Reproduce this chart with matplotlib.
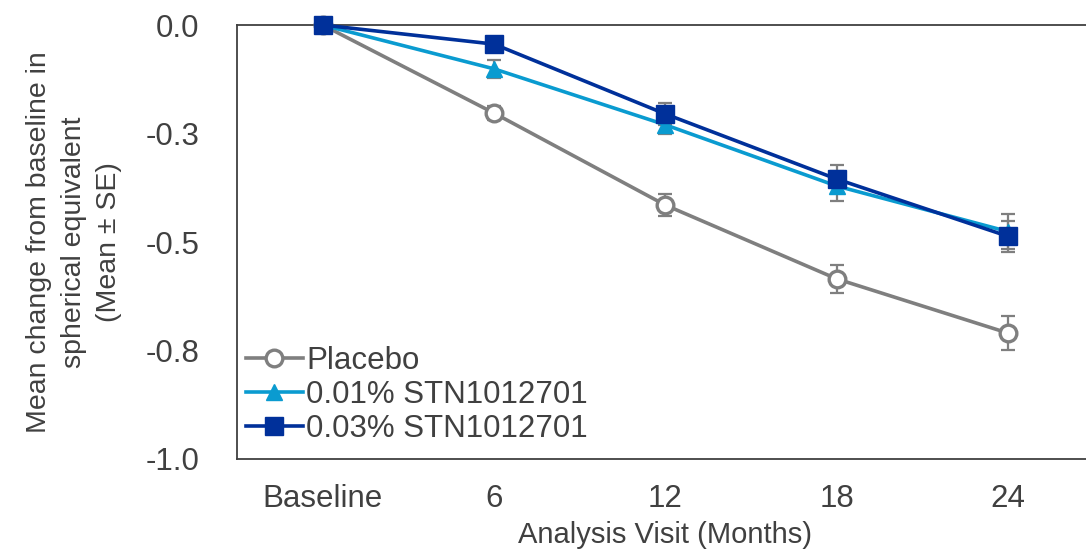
import matplotlib.pyplot as plt
import numpy as np

plt.rcParams['font.family'] = ['Liberation Sans', 'DejaVu Sans']

# data
visits = ['Baseline', '6', '12', '18', '24']
placebo = [0.0, -0.203, -0.415, -0.585, -0.710]
placebo_se = [0.0, 0.016, 0.025, 0.032, 0.039]
low_dose = [0.0, -0.101, -0.230, -0.371, -0.476]
low_dose_se = [0.0, 0.020, 0.022, 0.034, 0.040]
high_dose = [0.0, -0.044, -0.205, -0.355, -0.487]
high_dose_se = [0.0, 0.010, 0.025, 0.032, 0.036]
yticks = [0.0, -0.25, -0.5, -0.75, -1.0]
ytick_labels = ['0.0', '-0.3', '-0.5', '-0.8', '-1.0']

grey = '#7f7f7f'
light_blue = '#0a9bd0'
dark_blue = '#00309a'
txt = '#404040'

fig = plt.figure(figsize=(10.86, 5.5), dpi=100)
ax = fig.add_axes([0.2182, 0.1655, 0.789, 0.789])
x = np.arange(len(visits))

# error bars first, lines + markers on top
for vals, se in [(placebo, placebo_se), (low_dose, low_dose_se), (high_dose, high_dose_se)]:
    ax.errorbar(x, vals, yerr=se, fmt='none', ecolor=grey, elinewidth=1.6,
                capsize=5, capthick=1.6, zorder=2)

ax.plot(x, placebo, color=grey, lw=2.6, marker='o', ms=12, mfc='white',
        mec=grey, mew=2.4, label='Placebo', zorder=3, clip_on=False)
ax.plot(x, low_dose, color=light_blue, lw=2.6, marker='^', ms=11,
        mfc=light_blue, mec=light_blue, label='0.01% STN1012701', zorder=4,
        clip_on=False)
ax.plot(x, high_dose, color=dark_blue, lw=2.6, marker='s', ms=12.5,
        mfc=dark_blue, mec=dark_blue, label='0.03% STN1012701', zorder=5,
        clip_on=False)

ax.set_xlim(-0.5, 4.5)
ax.set_ylim(-1.0, 0.0)
ax.set_xticks(x)
ax.set_xticklabels(visits)
ax.set_yticks(yticks)
ax.set_yticklabels(ytick_labels)
ax.tick_params(length=0, labelsize=22.5, colors=txt)
ax.tick_params(axis='y', pad=27)
ax.tick_params(axis='x', pad=18)
for sp in ax.spines.values():
    sp.set_color('#404040')
    sp.set_linewidth(1.3)

ax.set_xlabel('Analysis Visit (Months)', fontsize=21, color=txt, labelpad=5)
ax.set_ylabel('Mean change from baseline in\nspherical equivalent\n(Mean \u00b1 SE)',
              fontsize=20.5, color=txt, labelpad=17, linespacing=1.45)

ax.legend(loc='lower left', bbox_to_anchor=(0.01, 0.035), frameon=False,
          fontsize=22.5, handlelength=1.85, handletextpad=0.1,
          labelspacing=0.12, borderpad=0, borderaxespad=0, labelcolor=txt)

fig.savefig('out.png', dpi=100)
